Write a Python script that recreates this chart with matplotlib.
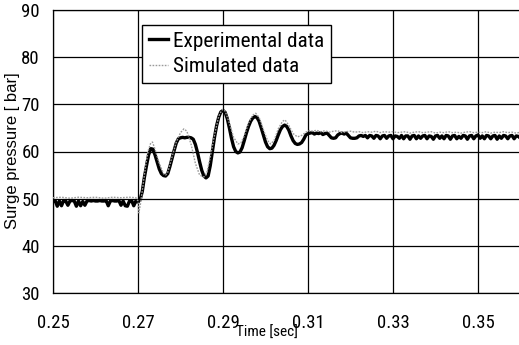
import matplotlib
matplotlib.use("Agg")
import matplotlib.pyplot as plt

# ---------------- data ----------------
exp_time = [
    0.2500, 0.2505, 0.2510, 0.2515, 0.2520, 0.2525, 0.2530, 0.2535, 0.2540, 0.2545,
    0.2550, 0.2555, 0.2560, 0.2565, 0.2570, 0.2575, 0.2580, 0.2585, 0.2590, 0.2595,
    0.2600, 0.2605, 0.2610, 0.2615, 0.2620, 0.2625, 0.2630, 0.2635, 0.2640, 0.2645,
    0.2650, 0.2655, 0.2660, 0.2665, 0.2670, 0.2675, 0.2680, 0.2685, 0.2690, 0.2695,
    0.2700,
    0.2705, 0.2710, 0.2715, 0.2720, 0.2725, 0.2730, 0.2735, 0.2740, 0.2745, 0.2750,
    0.2755, 0.2760, 0.2765, 0.2770, 0.2775, 0.2780, 0.2785, 0.2790, 0.2795, 0.2800,
    0.2805, 0.2810, 0.2815, 0.2820, 0.2825, 0.2830, 0.2835, 0.2840, 0.2845, 0.2850,
    0.2855, 0.2860, 0.2865, 0.2870, 0.2875, 0.2880, 0.2885, 0.2890, 0.2895, 0.2900,
    0.2905, 0.2910, 0.2915, 0.2920, 0.2925, 0.2930, 0.2935, 0.2940, 0.2945, 0.2950,
    0.2955, 0.2960, 0.2965, 0.2970, 0.2975, 0.2980, 0.2985, 0.2990, 0.2995, 0.3000,
    0.3005, 0.3010, 0.3015, 0.3020, 0.3025, 0.3030, 0.3035, 0.3040, 0.3045, 0.3050,
    0.3055, 0.3060, 0.3065, 0.3070, 0.3075, 0.3080, 0.3085, 0.3090, 0.3095, 0.3100,
    0.3105, 0.3110, 0.3115, 0.3120, 0.3125, 0.3130, 0.3135, 0.3140, 0.3145, 0.3150,
    0.3155, 0.3160, 0.3165, 0.3170, 0.3175, 0.3180, 0.3185, 0.3190, 0.3195, 0.3200,
    0.3205, 0.3210, 0.3215, 0.3220, 0.3225, 0.3230, 0.3235, 0.3240, 0.3245, 0.3250,
    0.3255, 0.3260, 0.3265, 0.3270, 0.3275, 0.3280, 0.3285, 0.3290, 0.3295, 0.3300,
    0.3305, 0.3310, 0.3315, 0.3320, 0.3325, 0.3330, 0.3335, 0.3340, 0.3345, 0.3350,
    0.3355, 0.3360, 0.3365, 0.3370, 0.3375, 0.3380, 0.3385, 0.3390, 0.3395, 0.3400,
    0.3405, 0.3410, 0.3415, 0.3420, 0.3425, 0.3430, 0.3435, 0.3440, 0.3445, 0.3450,
    0.3455, 0.3460, 0.3465, 0.3470, 0.3475, 0.3480, 0.3485, 0.3490, 0.3495, 0.3500,
    0.3505, 0.3510, 0.3515, 0.3520, 0.3525, 0.3530, 0.3535, 0.3540, 0.3545, 0.3550,
    0.3555, 0.3560, 0.3565, 0.3570, 0.3575, 0.3580, 0.3585, 0.3590, 0.3595, 0.3600,
]
exp_pressure = [
    49.5, 49.6, 48.4, 49.5, 48.5, 49.6, 49.5, 48.6, 49.5, 49.6,
    49.5, 48.4, 49.5, 48.5, 49.4, 48.6, 49.5, 49.6, 49.5, 49.6,
    49.5, 49.5, 49.6, 49.5, 49.5, 49.6, 48.5, 49.5, 49.6, 49.5,
    49.5, 49.6, 48.6, 49.5, 48.5, 48.4, 49.5, 49.6, 48.5, 49.5,
    49.3,
    49.8, 51.5, 54.5, 57.0, 59.3, 60.6, 60.5, 59.3, 57.8, 56.3,
    55.3, 54.9, 54.8, 55.3, 56.8, 58.5, 60.2, 61.8, 62.7, 62.9,
    63.0, 62.9, 63.0, 63.0, 62.9, 62.6, 61.5, 59.8, 57.8, 56.0,
    54.8, 54.4, 54.8, 57.0, 60.0, 63.0, 65.5, 67.3, 68.4, 68.7,
    68.3, 67.0, 65.0, 62.8, 61.0, 60.0, 59.7, 59.9, 60.8, 62.3,
    63.9, 65.3, 66.4, 67.1, 67.4, 67.2, 66.4, 65.0, 63.5, 62.0,
    61.0, 60.6, 60.7, 61.3, 62.3, 63.5, 64.6, 65.3, 65.6, 65.3,
    64.5, 63.3, 62.3, 61.7, 61.5, 61.6, 61.9, 62.6, 63.5, 63.8,
    63.9, 64.0, 63.7, 63.9, 63.8, 64.0, 63.6, 63.8, 63.9, 63.4,
    62.9, 62.8, 62.9, 63.5, 63.8, 63.9, 63.7, 63.9, 63.4, 62.9,
    62.8, 62.8, 62.9, 63.3, 63.4, 63.2, 63.4, 62.9, 63.4, 63.3,
    62.8, 63.4, 63.3, 62.7, 63.3, 63.4, 62.8, 63.3, 63.4, 62.7,
    63.3, 63.2, 62.8, 63.4, 62.7, 63.3, 63.3, 62.6, 63.3, 63.4,
    62.7, 63.3, 62.8, 63.3, 63.4, 62.7, 63.3, 63.2, 62.6, 63.3,
    63.4, 62.8, 63.3, 62.7, 63.4, 63.3, 62.6, 63.3, 63.4, 62.7,
    63.2, 62.8, 63.4, 63.3, 62.6, 63.3, 63.4, 62.7, 63.3, 63.5,
    62.8, 63.3, 62.7, 63.4, 63.3, 62.7, 63.3, 63.4, 62.6, 63.3,
    62.8, 63.4, 63.3, 62.7, 63.3, 63.4, 62.7, 63.3, 63.2, 62.8,
]

sim_time = [
    0.2500, 0.2520, 0.2540, 0.2560, 0.2580, 0.2600, 0.2620, 0.2640, 0.2660, 0.2680,
    0.2695, 0.2700, 0.2702, 0.2706, 0.2712, 0.2718, 0.2724, 0.2730, 0.2734, 0.2740,
    0.2750, 0.2760, 0.2765, 0.2770, 0.2780, 0.2790, 0.2800, 0.2808, 0.2815, 0.2825,
    0.2835, 0.2845, 0.2855, 0.2862, 0.2870, 0.2880, 0.2890, 0.2898, 0.2905, 0.2915,
    0.2925, 0.2935, 0.2942, 0.2950, 0.2960, 0.2970, 0.2977, 0.2985, 0.2995, 0.3005,
    0.3012, 0.3020, 0.3030, 0.3040, 0.3046, 0.3055, 0.3065, 0.3075, 0.3085, 0.3095,
    0.3105, 0.3110, 0.3120, 0.3130, 0.3140, 0.3150, 0.3160, 0.3170, 0.3180, 0.3190,
    0.3200, 0.3210, 0.3220, 0.3230, 0.3240, 0.3250, 0.3260, 0.3270, 0.3280, 0.3290,
    0.3300, 0.3310, 0.3320, 0.3330, 0.3340, 0.3350, 0.3360, 0.3370, 0.3380, 0.3390,
    0.3400, 0.3410, 0.3420, 0.3430, 0.3440, 0.3450, 0.3460, 0.3470, 0.3480, 0.3490,
    0.3500, 0.3510, 0.3520, 0.3530, 0.3540, 0.3550, 0.3560, 0.3570, 0.3580, 0.3590,
    0.3600,
]
sim_pressure = [
    50.2, 50.3, 50.1, 50.3, 50.2, 50.3, 50.1, 50.3, 50.2, 50.3,
    50.2, 49.5, 47.0, 49.0, 53.0, 57.0, 60.2, 61.8, 62.0, 60.5,
    57.5, 55.3, 55.0, 55.6, 58.8, 62.0, 64.0, 64.8, 64.3, 61.5,
    57.5, 55.0, 54.6, 55.5, 58.8, 63.5, 67.5, 68.9, 68.6, 66.0,
    63.0, 61.6, 61.8, 63.3, 66.0, 67.7, 68.1, 67.2, 64.6, 62.3,
    61.6, 62.3, 64.8, 66.4, 66.7, 65.5, 63.8, 63.1, 63.4, 64.1,
    64.5, 64.3, 64.5, 64.2, 64.4, 64.1, 64.3, 64.4, 64.0, 64.2,
    64.3, 64.1, 64.2, 64.0, 64.2, 64.1, 64.3, 64.0, 64.2, 64.1,
    64.2, 64.0, 64.1, 64.2, 63.9, 64.1, 64.2, 64.0, 64.1, 64.2,
    63.9, 64.1, 64.0, 64.2, 64.0, 64.1, 63.9, 64.1, 64.2, 64.0,
    64.1, 64.0, 64.2, 63.9, 64.1, 64.0, 64.2, 64.0, 64.1, 63.9,
    64.1,
]

x_ticks = [0.25, 0.27, 0.29, 0.31, 0.33, 0.35]
x_ticklabels = ["0.25", "0.27", "0.29", "0.31", "0.33", "0.35"]
y_ticks = [30, 40, 50, 60, 70, 80, 90]
y_ticklabels = ["30", "40", "50", "60", "70", "80", "90"]
labels = ["Experimental data", "Simulated data"]

# ---------------- fonts ----------------
narrow = ["Roboto Condensed", "Liberation Sans", "DejaVu Sans"]
regular = ["Liberation Sans", "DejaVu Sans"]
plt.rcParams["font.family"] = narrow

# ---------------- figure ----------------
W, H = 519, 345
fig = plt.figure(figsize=(W / 100, H / 100), dpi=100)
ax = fig.add_axes([53 / W, 52 / H, 466 / W, 283 / H])

ax.plot(exp_time, exp_pressure, color="black", lw=2.4, solid_joinstyle="round",
        label=labels[0], zorder=3)
ax.plot(sim_time, sim_pressure, color="#9a9a9a", lw=1.0, linestyle=(0, (1.2, 1.0)),
        label=labels[1], zorder=4)

ax.set_xlim(0.25, 0.25 + 466 / 85 * 0.02)
ax.set_ylim(30, 90)
ax.set_xticks(x_ticks)
ax.set_xticklabels(x_ticklabels)
ax.set_yticks(y_ticks)
ax.set_yticklabels(y_ticklabels)
ax.tick_params(axis="both", length=0, labelsize=13.5)
ax.tick_params(axis="x", pad=15)
ax.tick_params(axis="y", pad=9.5)

ax.grid(True, color="black", lw=0.9)
ax.set_axisbelow(True)
for side in ["top", "left", "bottom"]:
    ax.spines[side].set_color("black")
    ax.spines[side].set_linewidth(0.9)
ax.spines["right"].set_visible(False)

leg = ax.legend(loc="upper left", bbox_to_anchor=((142 - 53) / 466, (293 - 25) / 283),
                borderaxespad=0, fontsize=15.3, frameon=True, fancybox=False,
                edgecolor="black", framealpha=1, handlelength=0.9,
                handletextpad=0.25, labelspacing=0.3, borderpad=0.32)
leg.get_frame().set_linewidth(1.0)

fig.text(13 / W, 1 - 151 / H, "Surge pressure [ bar]", rotation=90,
         ha="center", va="center", fontsize=12, family=regular)
fig.text(267 / W, 1 - 333 / H, "Time [sec]", ha="center", va="center",
         fontsize=11)

fig.savefig("out.png", dpi=100)
